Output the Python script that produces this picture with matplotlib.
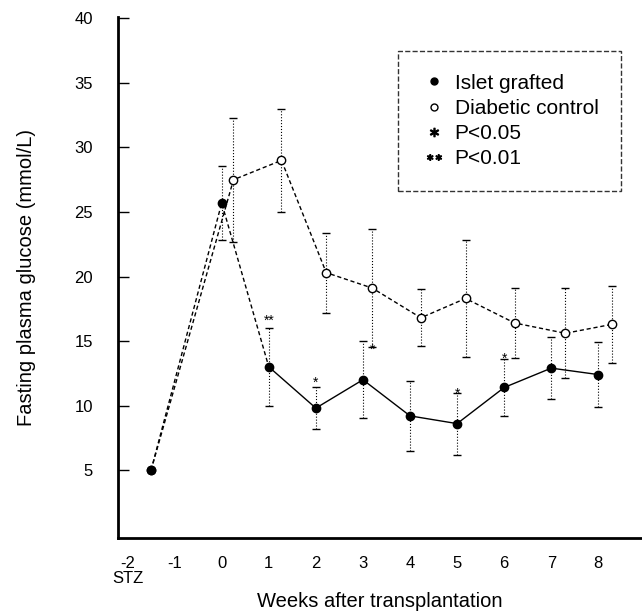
import matplotlib
matplotlib.use('Agg')
import matplotlib.pyplot as plt
from matplotlib.lines import Line2D

plt.rcParams['font.family'] = ['Liberation Sans', 'DejaVu Sans']

# islet grafted group
islet_x = [-1.5, 0, 1, 2, 3, 4, 5, 6, 7, 8]
islet_y = [5.0, 25.7, 13.0, 9.8, 12.0, 9.2, 8.6, 11.4, 12.9, 12.4]
islet_err = [0, 2.9, 3.0, 1.6, 3.0, 2.7, 2.4, 2.2, 2.4, 2.5]

# diabetic control group (plotted slightly right of the week)
ctrl_x = [-1.5, 0.25, 1.27, 2.22, 3.2, 4.23, 5.18, 6.22, 7.3, 8.3]
ctrl_y = [5.0, 27.5, 29.0, 20.3, 19.1, 16.8, 18.3, 16.4, 15.6, 16.3]
ctrl_err = [0, 4.8, 4.0, 3.1, 4.6, 2.2, 4.5, 2.7, 3.5, 3.0]

# significance marks
sig_x = [1, 2, 3.2, 5, 6]
sig_y = [16.6, 11.8, 14.3, 10.9, 13.6]
sig_txt = ['**', '*', '*', '*', '*']

xticks = [-2, -1, 0, 1, 2, 3, 4, 5, 6, 7, 8]
xticklabels = ['-2\nSTZ', '-1', '0', '1', '2', '3', '4', '5', '6', '7', '8']
yticks = [5, 10, 15, 20, 25, 30, 35, 40]

fig = plt.figure(figsize=(6.42, 6.12), dpi=100)
ax = fig.add_axes([0.184, 0.121, 0.814, 0.851])

dash = (0, (3, 2))

# error bars
for xs, ys, es in [(islet_x, islet_y, islet_err), (ctrl_x, ctrl_y, ctrl_err)]:
    eb = ax.errorbar(xs[1:], ys[1:], yerr=es[1:], fmt='none', ecolor='black',
                     elinewidth=0.8, capsize=3, capthick=1)
    eb[2][0].set_linestyle(':')

# control line, dashed
ax.plot(ctrl_x, ctrl_y, color='black', lw=1, linestyle=dash, marker='o',
        markersize=6, markerfacecolor='white', markeredgecolor='black', zorder=3)
# islet: dashed for the first part, solid afterwards
ax.plot(islet_x[:3], islet_y[:3], color='black', lw=1, linestyle=dash, zorder=4)
ax.plot(islet_x[2:], islet_y[2:], color='black', lw=1, zorder=4)
ax.plot(islet_x, islet_y, linestyle='none', marker='o', markersize=6,
        color='black', zorder=5)

for x, y, t in zip(sig_x, sig_y, sig_txt):
    ax.text(x, y, t, ha='center', va='center', fontsize=10)

ax.set_xlim(-2.2, 8.9)
ax.set_ylim(-0.26, 40.1)
ax.set_xticks(xticks)
ax.set_xticklabels(xticklabels)
ax.set_yticks(yticks)
ax.tick_params(axis='y', direction='in', length=8, width=1, pad=18, labelsize=12)
ax.tick_params(axis='x', length=0, pad=13, labelsize=12)
for lab in ax.get_xticklabels():
    lab.set_linespacing(1.0)

ax.spines['top'].set_visible(False)
ax.spines['right'].set_visible(False)
ax.spines['left'].set_linewidth(2)
ax.spines['bottom'].set_linewidth(2)

ax.set_xlabel('Weeks after transplantation', fontsize=14.5, labelpad=4)
ax.set_ylabel('Fasting plasma glucose (mmol/L)', fontsize=14.5, labelpad=28)

handles = [
    Line2D([], [], linestyle='none', marker='o', markersize=5, color='black'),
    Line2D([], [], linestyle='none', marker='o', markersize=5,
           markerfacecolor='white', markeredgecolor='black'),
    Line2D([], [], linestyle='none', marker='$*$', markersize=6, color='black'),
    Line2D([], [], linestyle='none', marker='$**$', markersize=10, color='black'),
]
labels = ['Islet grafted', 'Diabetic control', 'P<0.05', 'P<0.01']
leg = fig.legend(handles, labels, loc='upper right',
                 bbox_to_anchor=(0.968, 0.917), fontsize=15, frameon=True,
                 fancybox=False, handlelength=1.2, handletextpad=0.4,
                 borderpad=1.1, labelspacing=0.3, borderaxespad=0)
leg.get_frame().set_edgecolor('black')
leg.get_frame().set_linestyle('--')
leg.get_frame().set_linewidth(1)

fig.savefig('out.png', dpi=100)
